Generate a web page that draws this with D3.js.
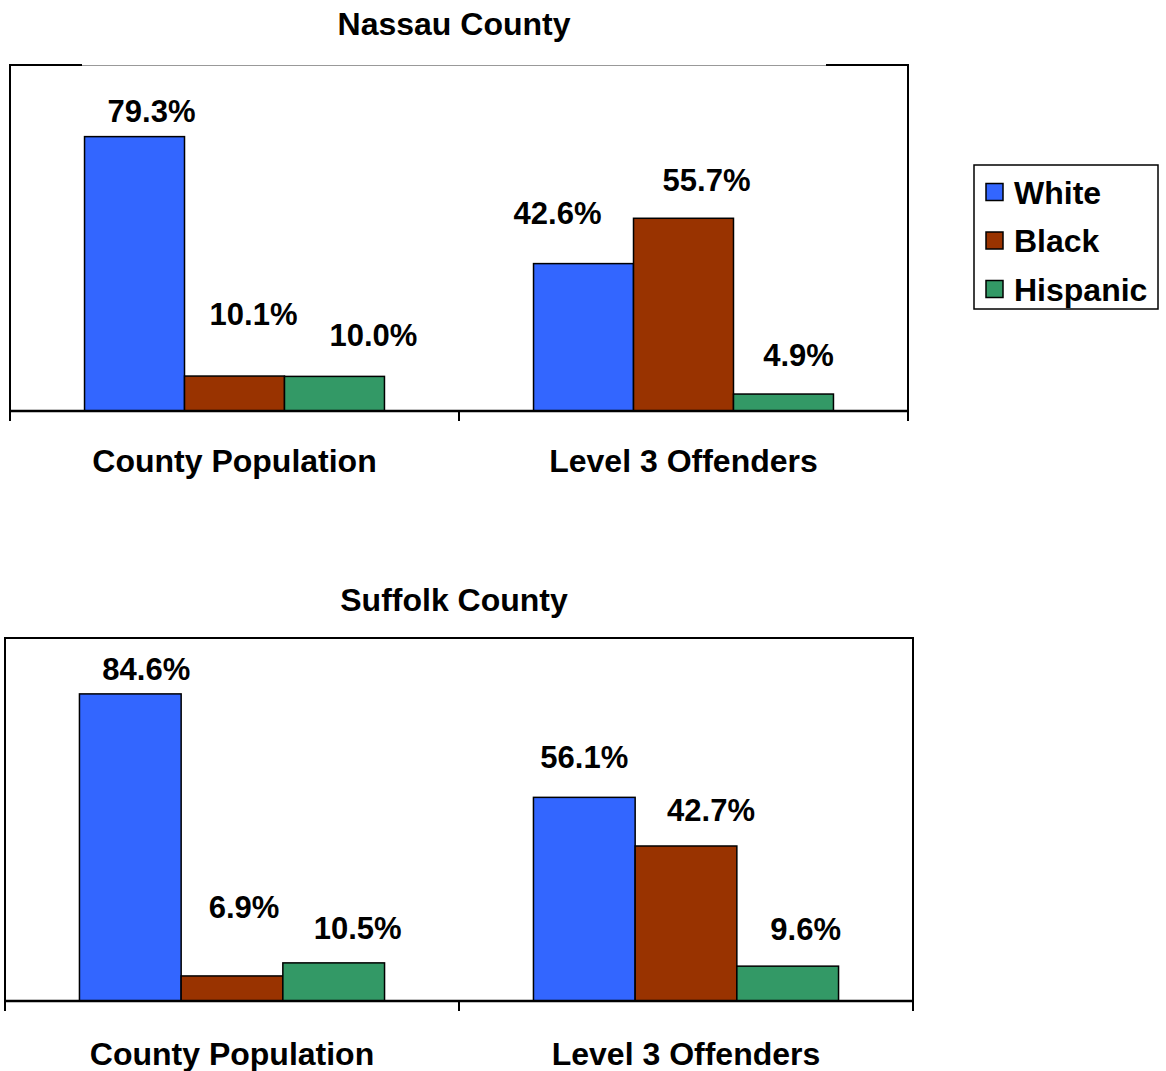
<!DOCTYPE html>
<html><head><meta charset="utf-8">
<script src="https://cdn.jsdelivr.net/npm/d3@7"></script>
<style>body{margin:0;background:#fff}svg{display:block}text{font-family:"Liberation Sans",Arial,sans-serif;font-weight:bold;fill:#000}</style>
</head><body><svg id="c" width="1166" height="1071"></svg>
<script>
const categories = ["County Population", "Level 3 Offenders"];
const seriesNames = ["White", "Black", "Hispanic"];
const colors = ["#3366FF", "#993300", "#339966"];
const nassauTitle = "Nassau County";
const nassauValues = [[79.3, 10.1, 10.0], [42.6, 55.7, 4.9]];
const suffolkTitle = "Suffolk County";
const suffolkValues = [[84.6, 6.9, 10.5], [56.1, 42.7, 9.6]];
// label nudges (px, layout only) [dx, gapAboveBar]
const nassauNudge = [[[17,26],[19,62],[39,42]],[[-26,51],[23,38],[15,39]]];
const suffolkNudge = [[[16,25],[12,69],[24,35]],[[0,41],[25,36],[18,37]]];

const svg = d3.select("#c");
const FS = 31;
const FS2 = 32;

function drawChart(cfg){
  const g = svg.append("g");
  const x0 = d3.scaleBand().domain(categories).range([cfg.left, cfg.right]).paddingInner(0).paddingOuter(0);
  const y = d3.scaleLinear().domain([0,100]).range([cfg.bottom, cfg.top]);
  const gw = x0.bandwidth()*cfg.groupFrac;
  const x1 = d3.scaleBand().domain(seriesNames).range([0, gw]);
  g.append("line").attr("x1",cfg.left).attr("x2",cfg.left).attr("y1",cfg.top).attr("y2",cfg.bottom).attr("stroke","#000").attr("stroke-width",2);
  g.append("line").attr("x1",cfg.right).attr("x2",cfg.right).attr("y1",cfg.top).attr("y2",cfg.bottom).attr("stroke","#000").attr("stroke-width",2);
  if(cfg.greyTop){
    const a = cfg.left+72, b = cfg.right-82;
    g.append("line").attr("x1",cfg.left-1).attr("x2",a).attr("y1",cfg.top).attr("y2",cfg.top).attr("stroke","#000").attr("stroke-width",2);
    g.append("line").attr("x1",a).attr("x2",b).attr("y1",cfg.top+0.5).attr("y2",cfg.top+0.5).attr("stroke","#999").attr("stroke-width",1);
    g.append("line").attr("x1",b).attr("x2",cfg.right+1).attr("y1",cfg.top).attr("y2",cfg.top).attr("stroke","#000").attr("stroke-width",2);
  } else {
    g.append("line").attr("x1",cfg.left-1).attr("x2",cfg.right+1).attr("y1",cfg.top).attr("y2",cfg.top).attr("stroke","#000").attr("stroke-width",2);
  }
  cfg.values.forEach((vals, ci) => {
    const gx = x0(categories[ci]) + (x0.bandwidth()-gw)/2;
    vals.forEach((v, si) => {
      const bx = gx + x1(seriesNames[si]);
      g.append("rect").attr("x",bx).attr("y",y(v)).attr("width",x1.bandwidth()).attr("height",y(0)-y(v))
        .attr("fill",colors[si]).attr("stroke","#000").attr("stroke-width",1.5);
      const n = cfg.nudge[ci][si];
      g.append("text").attr("x",bx + x1.bandwidth()/2 + n[0]).attr("y",y(v) - n[1]).attr("dy","0.36em")
        .attr("text-anchor","middle").attr("font-size",FS).text(v.toFixed(1)+"%");
    });
  });
  const ax = g.append("g").attr("transform",`translate(0,${cfg.bottom})`)
    .call(d3.axisBottom(x0).tickSize(0).tickFormat(""));
  ax.select(".domain").attr("stroke","#000").attr("stroke-width",2.5).attr("d",`M${cfg.left-1},0H${cfg.right+1}`);
  const ticks = [cfg.left, x0(categories[1]), cfg.right];
  ticks.forEach(t => g.append("line").attr("x1",t).attr("x2",t).attr("y1",cfg.bottom).attr("y2",cfg.bottom+10).attr("stroke","#000").attr("stroke-width",2));
  categories.forEach(c => g.append("text").attr("x",x0(c)+x0.bandwidth()/2).attr("y",cfg.bottom+cfg.catOff).attr("dy","0.36em")
    .attr("text-anchor","middle").attr("font-size",FS2).text(c));
  g.append("text").attr("x",cfg.titleX).attr("y",cfg.titleY).attr("dy","0.36em").attr("text-anchor","middle").attr("font-size",FS2).text(cfg.title);
}

drawChart({left:10,right:908,top:65,bottom:411,groupFrac:0.668,catOff:49,values:nassauValues,nudge:nassauNudge,title:nassauTitle,titleX:454,titleY:23,greyTop:true});
drawChart({left:5,right:913,top:638,bottom:1001,groupFrac:0.672,catOff:52,values:suffolkValues,nudge:suffolkNudge,title:suffolkTitle,titleX:454,titleY:599,greyTop:false});

const lg = svg.append("g");
lg.append("rect").attr("x",974).attr("y",165).attr("width",184).attr("height",144).attr("fill","#fff").attr("stroke","#000").attr("stroke-width",1.5);
seriesNames.forEach((s,i) => {
  const cy = 192 + i*48.5;
  lg.append("rect").attr("x",986).attr("y",cy-8.5).attr("width",17).attr("height",17).attr("fill",colors[i]).attr("stroke","#000").attr("stroke-width",1.5);
  lg.append("text").attr("x",1014).attr("y",cy).attr("dy","0.36em").attr("font-size",FS2).text(s);
});
</script></body></html>
